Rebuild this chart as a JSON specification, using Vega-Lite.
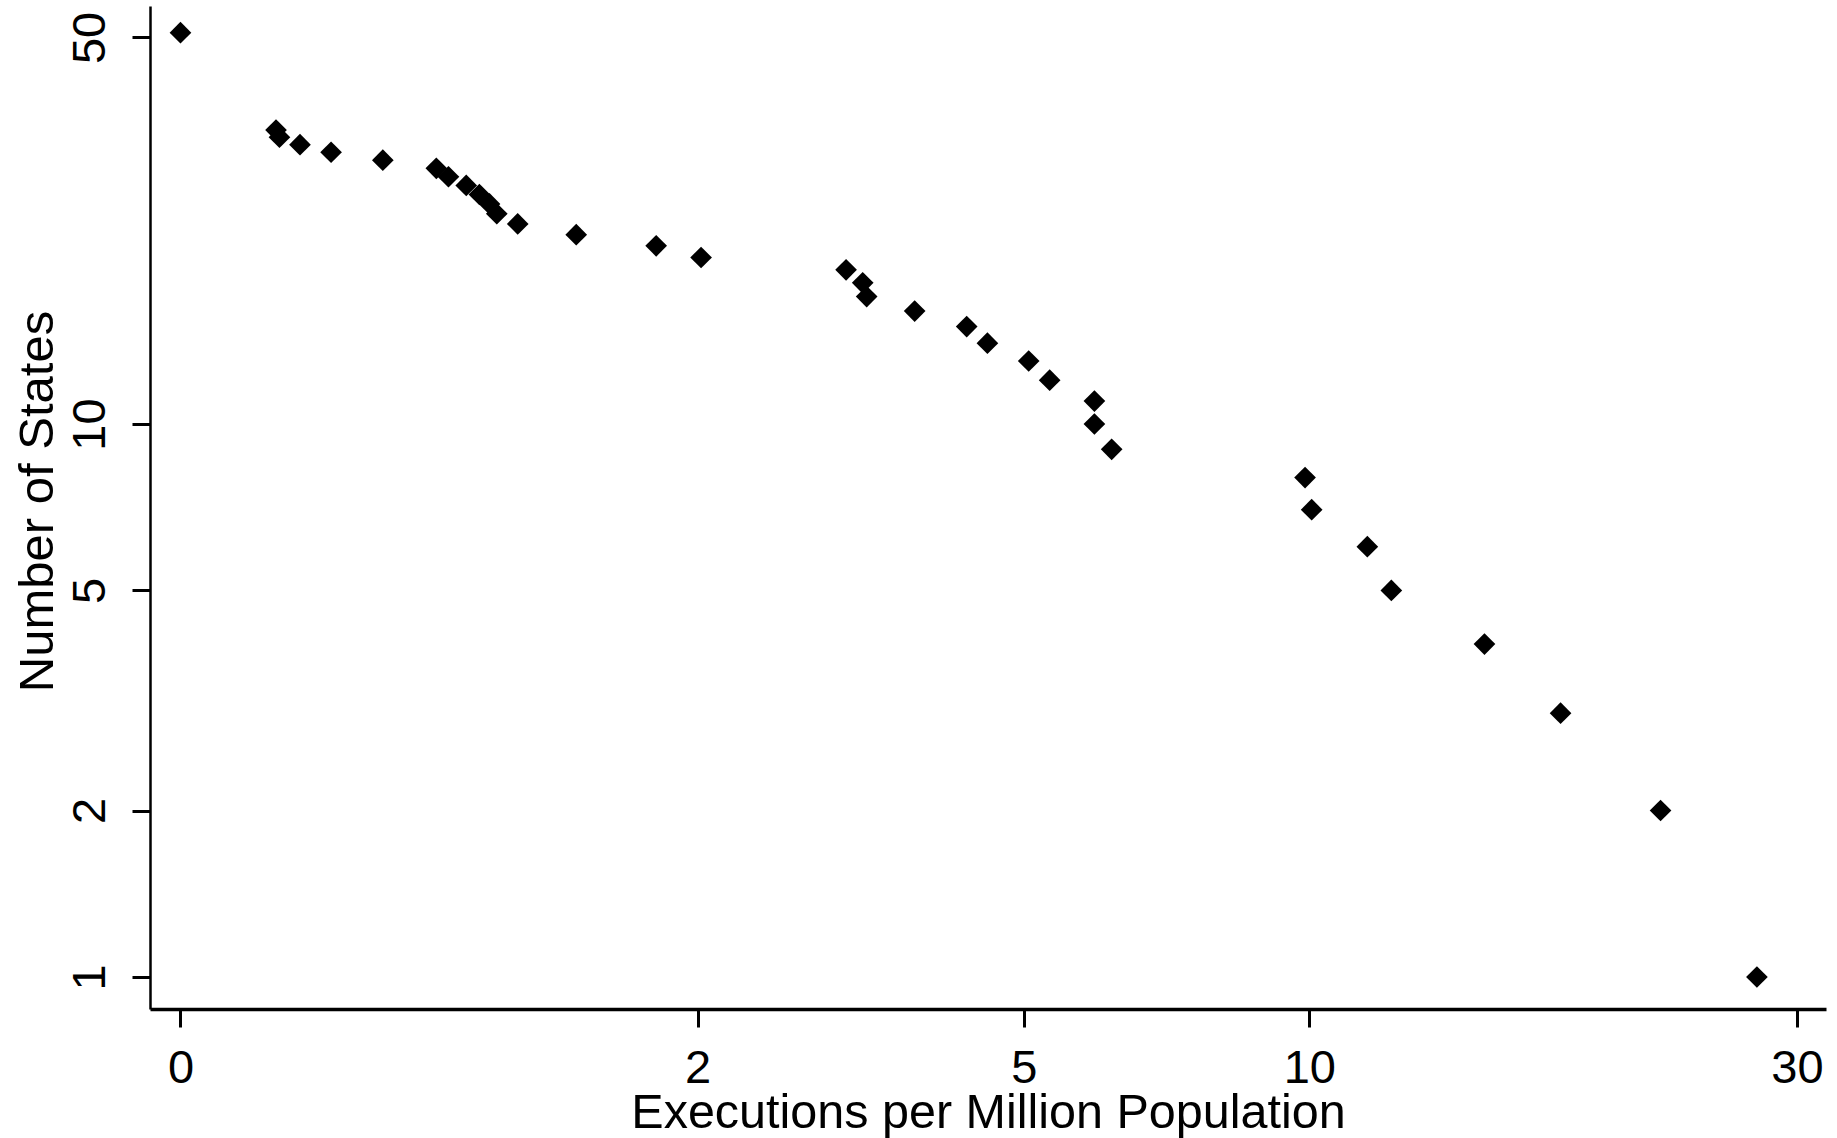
{
  "$schema": "https://vega.github.io/schema/vega-lite/v6.json",
  "autosize": {"type": "none"},
  "padding": {"left": 150, "top": 6, "right": 11, "bottom": 129},
  "width": 1676,
  "height": 1003,
  "background": "white",
  "config": {
    "view": {"stroke": null},
    "font": "Liberation Sans",
    "axis": {
      "grid": false,
      "labelFont": "Liberation Sans",
      "titleFont": "Liberation Sans",
      "labelColor": "black",
      "titleColor": "black",
      "domainColor": "black",
      "tickColor": "black",
      "labelFontWeight": "normal",
      "titleFontWeight": "normal"
    }
  },
  "data": {
    "values": [
      {"rate": 0, "states": 51},
      {"rate": 0.225, "states": 34},
      {"rate": 0.234, "states": 33},
      {"rate": 0.289, "states": 32},
      {"rate": 0.377, "states": 31},
      {"rate": 0.537, "states": 30},
      {"rate": 0.722, "states": 29},
      {"rate": 0.767, "states": 28},
      {"rate": 0.835, "states": 27},
      {"rate": 0.887, "states": 26},
      {"rate": 0.928, "states": 25},
      {"rate": 0.958, "states": 24},
      {"rate": 1.047, "states": 23},
      {"rate": 1.318, "states": 22},
      {"rate": 1.747, "states": 21},
      {"rate": 2.022, "states": 20},
      {"rate": 3.112, "states": 19},
      {"rate": 3.26, "states": 18},
      {"rate": 3.296, "states": 17},
      {"rate": 3.757, "states": 16},
      {"rate": 4.313, "states": 15},
      {"rate": 4.552, "states": 14},
      {"rate": 5.061, "states": 13},
      {"rate": 5.337, "states": 12},
      {"rate": 5.969, "states": 11},
      {"rate": 5.969, "states": 10},
      {"rate": 6.229, "states": 9},
      {"rate": 9.902, "states": 8},
      {"rate": 10.056, "states": 7},
      {"rate": 11.444, "states": 6},
      {"rate": 12.095, "states": 5},
      {"rate": 14.96, "states": 4},
      {"rate": 17.76, "states": 3},
      {"rate": 22.2, "states": 2},
      {"rate": 27.47, "states": 1}
    ]
  },
  "mark": {"type": "point", "shape": "diamond", "filled": true, "color": "black", "opacity": 1, "size": 470},
  "encoding": {
    "x": {
      "field": "rate",
      "type": "quantitative",
      "title": "Executions per Million Population",
      "scale": {"type": "symlog", "constant": 1, "domain": [-0.0669, 31.97], "nice": false, "zero": false},
      "axis": {
        "values": [0, 2, 5, 10, 30],
        "format": "d",
        "labelFontSize": 47,
        "labelBaseline": "alphabetic",
        "labelPadding": 55,
        "labelFlush": false,
        "labelOverlap": false,
        "tickSize": 18,
        "tickWidth": 3,
        "domainWidth": 3.7,
        "titleFontSize": 48.5,
        "titleBaseline": "alphabetic",
        "titleY": 118
      }
    },
    "y": {
      "field": "states",
      "type": "quantitative",
      "title": "Number of States",
      "scale": {"type": "log", "domain": [0.8752, 57.0], "nice": false, "zero": false},
      "axis": {
        "values": [1, 2, 5, 10, 50],
        "format": "d",
        "labelFontSize": 47,
        "labelAngle": -90,
        "labelAlign": "center",
        "labelBaseline": "alphabetic",
        "labelPadding": 28,
        "labelFlush": false,
        "labelOverlap": false,
        "tickSize": 18,
        "tickWidth": 3,
        "domainWidth": 2.5,
        "titleFontSize": 49,
        "titleAngle": -90,
        "titleAlign": "center",
        "titleBaseline": "alphabetic",
        "titleX": -98,
        "titleY": 495
      }
    }
  }
}
